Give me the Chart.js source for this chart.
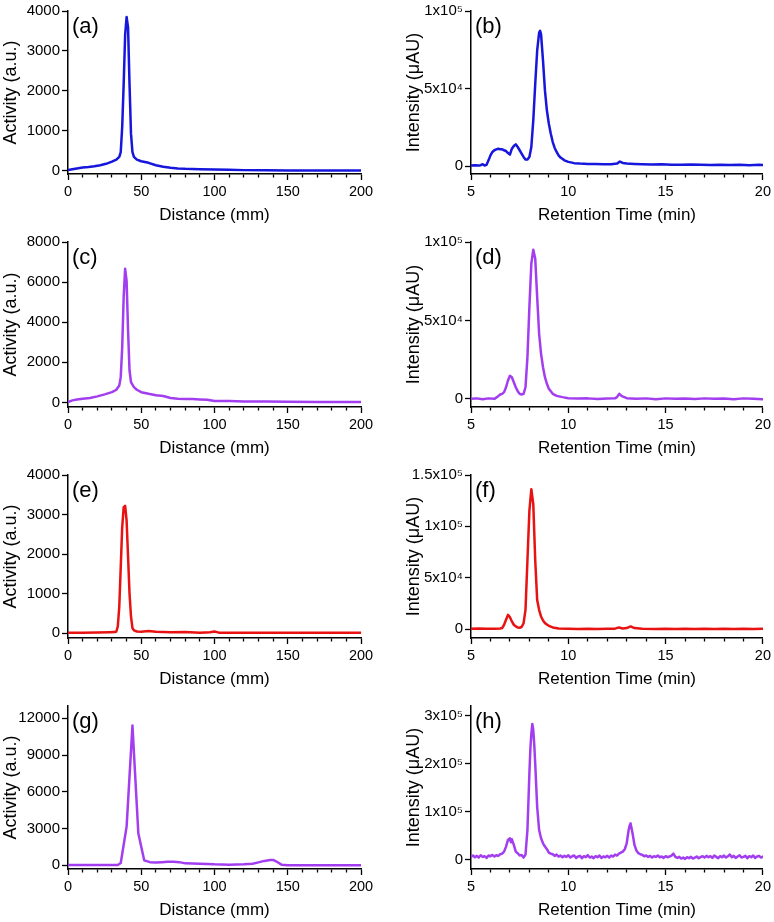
<!DOCTYPE html>
<html>
<head>
<meta charset="utf-8">
<script src="https://cdn.jsdelivr.net/npm/chart.js@4.4.1/dist/chart.umd.min.js"></script>
<style>
html,body{margin:0;padding:0;background:#fff;width:774px;height:922px;overflow:hidden;position:relative}
canvas{position:absolute}
</style>
</head>
<body>
<canvas id="cA" width="387" height="230" style="left:0;top:0"></canvas>
<canvas id="cB" width="387" height="230" style="left:387px;top:0"></canvas>
<canvas id="cC" width="387" height="232" style="left:0;top:231px"></canvas>
<canvas id="cD" width="387" height="232" style="left:387px;top:231px"></canvas>
<canvas id="cE" width="387" height="230" style="left:0;top:464px"></canvas>
<canvas id="cF" width="387" height="230" style="left:387px;top:464px"></canvas>
<canvas id="cG" width="387" height="230" style="left:0;top:695px"></canvas>
<canvas id="cH" width="387" height="230" style="left:387px;top:695px"></canvas>
<script>
// ---------- tick values / labels ----------
const distTicks = [0,10,20,30,40,50,60,70,80,90,100,110,120,130,140,150,160,170,180,190,200];
const distLabels = [0,50,100,150,200];
const timeTicks = [5,6,7,8,9,10,11,12,13,14,15,16,17,18,19,20];
const timeLabels = [5,10,15,20];

const yTicksA = [0,1000,2000,3000,4000];
const yTicksC = [0,2000,4000,6000,8000];
const yTicksE = [0,1000,2000,3000,4000];
const yTicksG = [0,3000,6000,9000,12000];
const yTicksB = [0,50000,100000];
const yLabelsB = ['0','5x10\u2074','1x10\u2075'];
const yTicksD = [0,50000,100000];
const yLabelsD = ['0','5x10\u2074','1x10\u2075'];
const yTicksF = [0,50000,100000,150000];
const yLabelsF = ['0','5x10\u2074','1x10\u2075','1.5x10\u2075'];
const yTicksH = [0,100000,200000,300000];
const yLabelsH = ['0','1x10\u2075','2x10\u2075','3x10\u2075'];

// ---------- series ----------
// (a) radio-TLC
const distA = [0,3,6,10,14,18,22,26,30,33, 35,36,37,38,39,40,41,42,43,44, 45,47,50,55,60,65,70,75,80,90, 100,110,120,135,150,165,180,200];
const actA  = [20,40,60,80,95,115,140,175,230,280, 350,470,1100,2170,3400,3850,3590,2170,930,470, 350,280,240,200,140,100,75,60,50,40, 33,25,17,14,10,8,7,5];
// (b) HPLC
const timeB = [5.0,5.2,5.4,5.5,5.6,5.65,5.7,5.8,5.9,6.0, 6.1,6.2,6.3,6.4,6.5,6.6,6.7,6.8,6.9,7.0, 7.1,7.2,7.3,7.4,7.5,7.6,7.7,7.8,7.9,8.0, 8.1,8.2,8.3,8.4,8.5,8.55,8.6,8.7,8.8,8.9, 9.0,9.1,9.2,9.3,9.4,9.5,9.6,9.8,10.0,10.3, 10.6,11.0,11.4,11.8,12.2,12.5,12.65,12.8,13.0,13.4, 13.8,14.3,14.8,15.3,15.8,16.3,16.8,17.3,17.8,18.3, 18.8,19.3,19.8,20.0];
const intB  = [500,600,450,700,1300,900,500,900,3800,7000, 9200,10300,10900,11300,11000,10900,10300,9800,8500,7500, 11300,13000,14100,12400,10300,8100,6000,4300,4300,6000, 12400,29500,53000,74400,86100,87200,85000,68000,48700,35900, 27400,20900,15600,11800,9200,7000,5600,3800,2800,2000, 1700,1500,1400,1300,1300,1700,3000,2100,1700,1500, 1300,1100,1300,1000,900,1100,900,800,1000,800, 900,700,900,800];
// (c) radio-TLC
const distC = [0,3,6,10,15,20,25,30,33,35, 36,37,38,39,40,41,42,43,45,47, 50,55,60,65,70,75,80,85,90,95, 100,110,120,135,150,170,185,200];
const actC  = [20,100,140,180,215,300,400,510,630,840, 1260,2750,5250,6660,6060,3580,1590,1010,760,630, 510,430,360,315,215,180,165,165,150,130, 65,65,50,40,33,17,20,17];
// (d) HPLC
const timeD = [5.0,5.3,5.6,5.9,6.2,6.4,6.5,6.6,6.7,6.8, 6.9,7.0,7.1,7.2,7.3,7.4,7.5,7.6,7.7,7.8, 7.9,8.0,8.1,8.2,8.3,8.4,8.5,8.6,8.7,8.8, 8.9,9.0,9.2,9.4,9.7,10.0,10.5,11.0,11.5,12.0, 12.4,12.5,12.62,12.75,13.0,13.5,14.0,14.5,15.0,15.5, 16.0,16.5,17.0,17.5,18.0,18.5,19.0,19.5,20.0];
const intD  = [0,300,-200,300,0,1700,2800,3200,4300,7400, 11700,14700,13800,10600,7400,4900,3200,2800,3200,7400, 26600,58500,86200,95100,89400,64900,41500,28700,20200,13800, 9600,6400,3200,1900,1100,400,200,300,-100,200, 300,1100,3200,1700,400,0,300,-200,300,0, 200,-100,300,0,200,-200,300,0,-200];
// (e) radio-TLC
const distE = [0,10,20,28,32,33,34,35,36,37, 38,39,40,41,42,43,44,45,47,50, 55,60,70,80,90,97,100,103,110,120, 140,160,180,200];
const actE  = [10,10,15,20,25,40,170,670,1670,2680, 3180,3220,2850,1930,1000,420,125,70,40,35, 50,35,20,25,10,20,40,10,5,10, 5,5,5,5];
// (f) HPLC
const timeF = [5.0,5.4,5.8,6.2,6.5,6.6,6.7,6.8,6.9,7.0, 7.1,7.2,7.3,7.4,7.5,7.6,7.7,7.8,7.9,8.0, 8.1,8.2,8.3,8.4,8.5,8.6,8.7,8.8,8.9,9.0, 9.2,9.5,10.0,10.5,11.0,11.5,12.0,12.4,12.6,12.8, 13.0,13.2,13.4,13.8,14.5,15.0,15.5,16.0,16.5,17.0, 17.5,18.0,18.5,19.0,19.5,20.0];
const intF  = [300,500,200,400,600,1000,4200,9000,13800,11600, 7400,4200,2600,1600,1300,2000,5500,18700,67000,115200, 136200,121700,67000,28300,18700,12200,8400,5800,4500,3200, 1600,600,300,100,300,0,300,400,1600,600, 1000,2600,1000,300,100,400,0,300,100,300, 0,300,100,300,0,200];
// (g) radio-TLC
const distG = [0,10,20,30,34,36,40,44,48,52, 56,60,64,68,72,76,80,90,100,110, 120,126,130,134,138,140,142,146,150,170, 200];
const actG  = [20,20,20,20,30,190,3160,11400,2620,405, 260,240,260,290,300,260,160,135,80,55, 80,130,240,360,430,440,330,40,10,10, 10];
// (h) HPLC
const timeH = [5.0,5.1,5.2,5.3,5.4,5.5,5.6,5.7,5.8,5.9,
  6.0,6.1,6.2,6.3,6.4,6.5,6.6,6.7,6.8,6.9,
  7.0,7.05,7.1,7.2,7.3,7.4,7.5,7.6,7.7,7.8,
  7.9,8.0,8.05,8.1,8.15,8.2,8.25,8.3,8.4,8.5,
  8.6,8.7,8.8,8.9,9.0,9.1,9.2,9.3,9.4,9.5,
  9.6,9.7,9.8,9.9,10.0,10.1,10.2,10.3,10.4,10.5,
  10.6,10.7,10.8,10.9,11.0,11.1,11.2,11.3,11.4,11.5,
  11.6,11.7,11.8,11.9,12.0,12.1,12.2,12.3,12.4,12.5,
  12.6,12.7,12.8,12.9,13.0,13.1,13.15,13.2,13.3,13.4,
  13.5,13.6,13.7,13.8,13.9,14.0,14.1,14.2,14.3,14.4,
  14.5,14.6,14.7,14.8,14.9,15.0,15.1,15.2,15.3,15.4,
  15.5,15.6,15.7,15.8,15.9,16.0,16.1,16.2,16.3,16.4,
  16.5,16.6,16.7,16.8,16.9,17.0,17.1,17.2,17.3,17.4,
  17.5,17.6,17.7,17.8,17.9,18.0,18.1,18.2,18.3,18.4,
  18.5,18.6,18.7,18.8,18.9,19.0,19.1,19.2,19.3,19.4,
  19.5,19.6,19.7,19.8,19.9,20.0];
const intH = [6900,9000,5500,8300,4800,9700,6200,7600,4100,9000,
  7600,10300,6900,9700,8300,11700,13100,17200,27600,41400,
  44800,36500,42800,31000,17200,13800,9000,10300,4800,11000,
  62100,179300,230000,262000,282800,270000,240000,200000,110300,62100,
  44800,34500,27600,22100,15200,13100,11700,8300,11000,6900,
  9000,5500,8300,6200,9700,4800,7600,9000,4100,6900,
  8300,3400,7600,5500,9700,4800,6900,3400,7600,5500,
  9000,4100,6900,5500,8300,4800,9000,6900,11000,9000,
  13100,15200,17200,22100,34500,62100,71000,75900,55200,31000,
  19300,13800,11700,10300,7600,9000,6200,8300,4800,7600,
  6200,9000,5500,6900,4100,7600,5500,6900,9000,13100,
  6200,4100,6200,2800,4800,2100,5500,3400,6200,2800,
  4800,6900,3400,5500,7600,4800,8300,5500,7600,4100,
  9000,6200,3400,7600,5500,9000,4800,7600,11000,5500,
  8300,4100,6900,9700,4800,6200,8300,3400,7600,5500,
  9000,4100,6900,8300,4800,6900];

// ---------- drawing ----------
const FONT = '"Liberation Sans", Arial, Helvetica, sans-serif';
Chart.defaults.font.family = FONT;
Chart.defaults.color = '#000';

const BLUE = '#1616dc';
const VIOLET = '#a23ef0';
const RED = '#e81212';

const panelLabel = {
  id: 'panelLabel',
  afterDraw(chart, args, opts) {
    if (!opts || !opts.text) return;
    const {ctx, chartArea} = chart;
    ctx.save();
    ctx.font = '22px ' + FONT;
    ctx.fillStyle = '#000';
    ctx.textAlign = 'left';
    ctx.textBaseline = 'alphabetic';
    ctx.fillText(opts.text, chartArea.left + 4, chartArea.top + 22);
    ctx.restore();
  }
};

function panel(id, xs, ys, color, p) {
  const pts = xs.map((x, i) => ({x: x, y: ys[i]}));
  const isMajorX = v => p.xLabels.indexOf(v) >= 0;
  return new Chart(document.getElementById(id), {
    type: 'line',
    data: { datasets: [{ data: pts, borderColor: color, borderWidth: 2.5, pointRadius: 0,
      tension: 0, fill: false, borderJoinStyle: 'round', borderCapStyle: 'round' }] },
    options: {
      responsive: false, animation: false, events: [],
      layout: { padding: { top: 10, right: p.padRight, bottom: 0, left: 0 } },
      plugins: { legend: { display: false }, tooltip: { enabled: false }, panelLabel: { text: p.label } },
      scales: {
        x: {
          type: 'linear', min: p.xMin, max: p.xMax,
          afterBuildTicks: s => { s.ticks = p.xTicks.map(v => ({ value: v })); },
          afterFit: s => { s.height = 56; },
          ticks: { autoSkip: false, maxRotation: 0, minRotation: 0, padding: 3, color: '#000',
            font: { size: 14.5 }, callback: v => isMajorX(v) ? String(v) : '' },
          grid: { drawOnChartArea: false, drawTicks: true, tickLength: 6, tickColor: '#000', tickWidth: 1.3,
            tickBorderDash: ctx => (ctx.tick && !isMajorX(ctx.tick.value)) ? [3, 50] : [] },
          border: { display: true, color: '#000', width: 1.5 },
          title: { display: true, text: p.xTitle, color: '#000', font: { size: 17 }, padding: { top: 0, bottom: 4 } }
        },
        y: {
          type: 'linear', min: p.yMin, max: p.yMax,
          afterBuildTicks: s => { s.ticks = p.yTicks.map(v => ({ value: v })); },
          afterFit: s => { s.width = p.yWidth; },
          ticks: { padding: 2, color: '#000', font: { size: 15 },
            callback: v => { const k = p.yTicks.indexOf(v); return k >= 0 ? p.yLabels[k] : ''; } },
          grid: { drawOnChartArea: false, drawTicks: true, tickLength: 6, tickColor: '#000', tickWidth: 1.3 },
          border: { display: true, color: '#000', width: 1.5 },
          title: { display: true, text: p.yTitle, color: '#000', font: { size: 18 }, padding: { top: p.yTitlePad, bottom: 0 } }
        }
      }
    },
    plugins: [panelLabel]
  });
}

const leftBase = { xMin: 0, xMax: 200, xTicks: distTicks, xLabels: distLabels, padRight: 26,
  yWidth: 68, yTitlePad: 0, xTitle: 'Distance (mm)', yTitle: 'Activity (a.u.)' };
const rightBase = { xMin: 5, xMax: 20, xTicks: timeTicks, xLabels: timeLabels, padRight: 10,
  yWidth: 84, yTitlePad: 16, xTitle: 'Retention Time (min)', yTitle: 'Intensity (\u03bcAU)' };

panel('cA', distA, actA, BLUE, Object.assign({}, leftBase, { label: '(a)', yMin: -80, yMax: 4000, yTicks: yTicksA, yLabels: yTicksA.map(String) }));
panel('cB', timeB, intB, BLUE, Object.assign({}, rightBase, { label: '(b)', yMin: -5000, yMax: 100000, yTicks: yTicksB, yLabels: yLabelsB }));
panel('cC', distC, actC, VIOLET, Object.assign({}, leftBase, { label: '(c)', yMin: -230, yMax: 8000, yTicks: yTicksC, yLabels: yTicksC.map(String) }));
panel('cD', timeD, intD, VIOLET, Object.assign({}, rightBase, { label: '(d)', yMin: -5200, yMax: 100000, yTicks: yTicksD, yLabels: yLabelsD }));
panel('cE', distE, actE, RED, Object.assign({}, leftBase, { label: '(e)', yMin: -125, yMax: 4000, yTicks: yTicksE, yLabels: yTicksE.map(String) }));
panel('cF', timeF, intF, RED, Object.assign({}, rightBase, { label: '(f)', yMin: -8700, yMax: 150000, yTicks: yTicksF, yLabels: yLabelsF }));
panel('cG', distG, actG, VIOLET, Object.assign({}, leftBase, { label: '(g)', yMin: -300, yMax: 13000, yTicks: yTicksG, yLabels: yTicksG.map(String) }));
panel('cH', timeH, intH, VIOLET, Object.assign({}, rightBase, { label: '(h)', yMin: -19000, yMax: 320000, yTicks: yTicksH, yLabels: yLabelsH }));
</script>
</body>
</html>
